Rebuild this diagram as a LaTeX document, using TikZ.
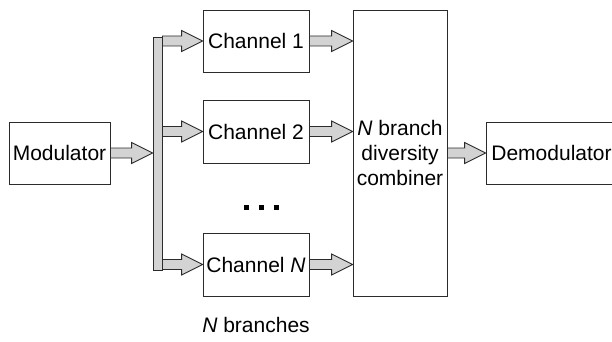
\documentclass[tikz,border=0pt]{standalone}
\usepackage{fontspec}
\setmainfont{Liberation Sans}
\usetikzlibrary{calc}
\definecolor{ln}{HTML}{2B2B2B}
\definecolor{fatfill}{HTML}{D3D3D3}
\tikzset{
  blk/.style={draw=ln, line width=0.9pt, fill=white, inner sep=0pt,
    font=\fontsize{21}{25}\selectfont},
  fat/.style={draw=ln, line width=0.9pt, fill=fatfill, line join=miter},
  lbl/.style={inner sep=0pt, font=\fontsize{21}{25}\selectfont},
  dotmark/.style={fill=black},
}
\newcommand{\fatarr}[2]{\draw[fat] let \p1=#1, \p2=#2 in
  (\x1,\y1+5pt) -- (\x2-21pt,\y1+5pt) -- (\x2-21pt,\y1+10.5pt) -- (\x2,\y1)
  -- (\x2-21pt,\y1-10.5pt) -- (\x2-21pt,\y1-5pt) -- (\x1,\y1-5pt) -- cycle;}
\begin{document}
\begin{tikzpicture}[x=1pt,y=-1pt]
\useasboundingbox (0,0) rectangle (612,342);
\node[blk, minimum width=101pt, minimum height=62pt] (mod) at (59.5,153) {Modulator};
\node[blk, fill=fatfill, minimum width=9pt, minimum height=233pt] (bus) at (157.5,153.5) {};
\node[blk, minimum width=106pt, minimum height=62pt] (ch1) at (256,41) {Channel 1};
\node[blk, minimum width=106pt, minimum height=63pt] (ch2) at (256,131.5) {Channel 2};
\node[blk, minimum width=106pt, minimum height=63pt] (chN) at (256,264.5) {Channel \textit{N}};
\node[blk, align=center, minimum width=94pt, minimum height=286pt] (comb) at (400,153)
  {\textit{N} branch\\diversity\\combiner};
\node[blk, minimum width=131pt, minimum height=62pt] (demod) at (551.5,153) {Demodulator};
\node[lbl, anchor=base] (nb) at (256,332) {\textit{N} branches};
% dots
\fill[dotmark] (243.5,204.5) rectangle (248.5,209.5);
\fill[dotmark] (258.5,204.5) rectangle (263.5,209.5);
\fill[dotmark] (273.5,204.5) rectangle (278.5,209.5);
% arrows
\fatarr{(mod.east)}{(bus.west |- mod.east)}
\fatarr{(bus.east |- ch1.west)}{(ch1.west)}
\fatarr{(bus.east |- ch2.west)}{(ch2.west)}
\fatarr{(bus.east |- chN.west)}{(chN.west)}
\fatarr{(ch1.east)}{(comb.west |- ch1.east)}
\fatarr{(ch2.east)}{(comb.west |- ch2.east)}
\fatarr{(chN.east)}{(comb.west |- chN.east)}
\fatarr{(comb.east |- demod.west)}{(demod.west)}
\end{tikzpicture}
\end{document}
